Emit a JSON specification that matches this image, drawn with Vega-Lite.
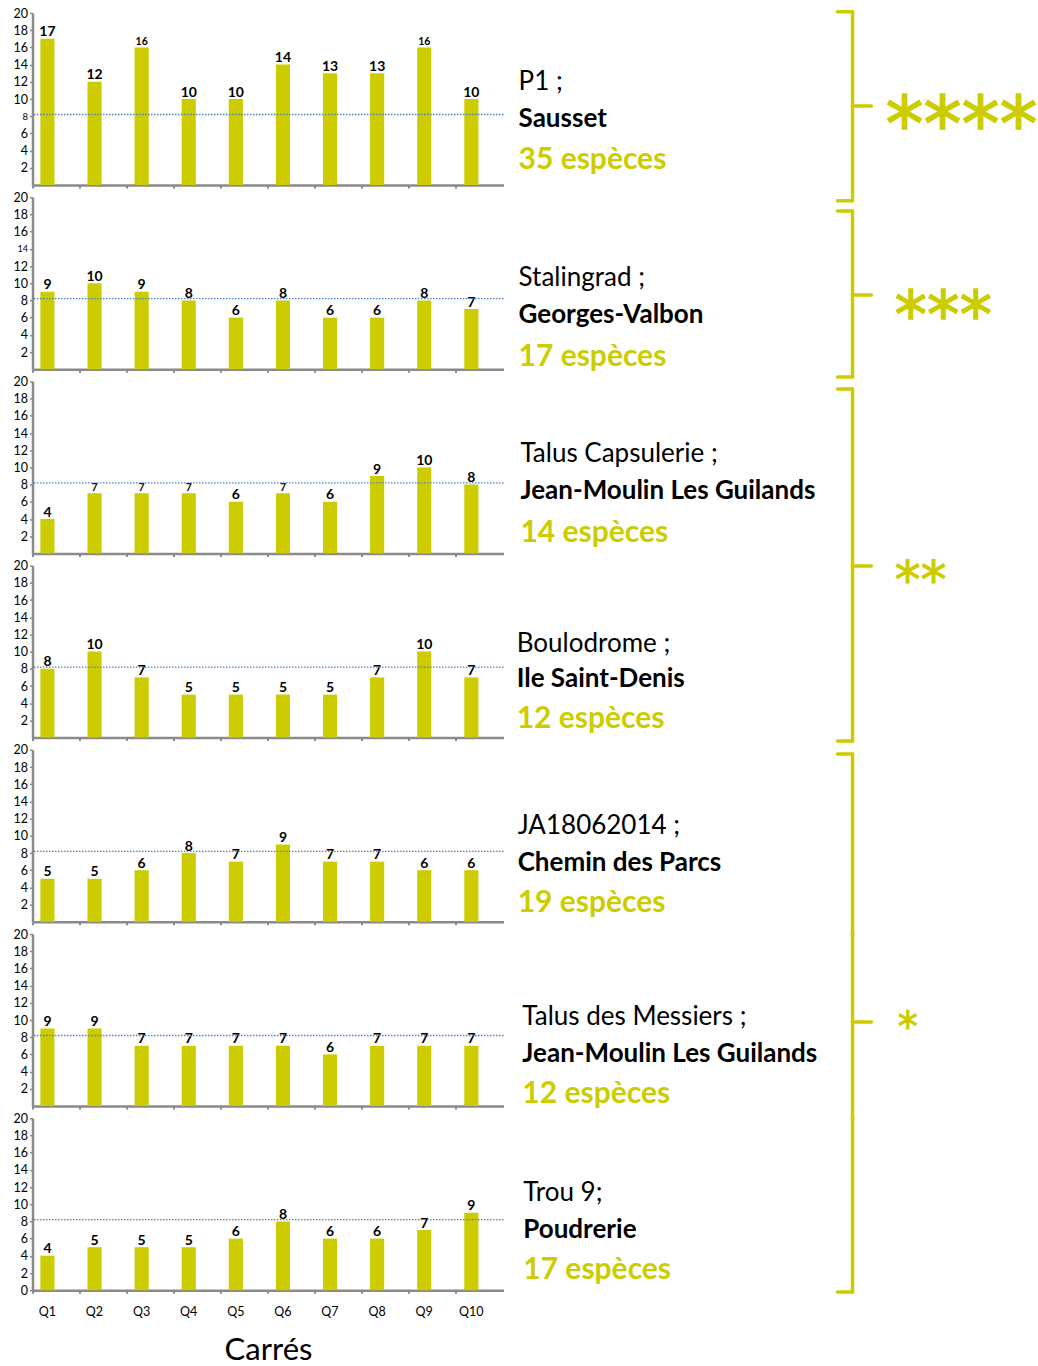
{
  "$schema": "https://vega.github.io/schema/vega-lite/v6.json",
  "padding": {"left": 12.5, "top": 7, "right": 0, "bottom": 0},
  "config": {"view": {"stroke": null}, "font": "Lato", "axis": {"labelOverlap": false}},
  "datasets": {
    "counts": [
      {"panel":1,"q":"Q1","n":17},{"panel":1,"q":"Q2","n":12},{"panel":1,"q":"Q3","n":16},{"panel":1,"q":"Q4","n":10},{"panel":1,"q":"Q5","n":10},{"panel":1,"q":"Q6","n":14},{"panel":1,"q":"Q7","n":13},{"panel":1,"q":"Q8","n":13},{"panel":1,"q":"Q9","n":16},{"panel":1,"q":"Q10","n":10},
      {"panel":2,"q":"Q1","n":9},{"panel":2,"q":"Q2","n":10},{"panel":2,"q":"Q3","n":9},{"panel":2,"q":"Q4","n":8},{"panel":2,"q":"Q5","n":6},{"panel":2,"q":"Q6","n":8},{"panel":2,"q":"Q7","n":6},{"panel":2,"q":"Q8","n":6},{"panel":2,"q":"Q9","n":8},{"panel":2,"q":"Q10","n":7},
      {"panel":3,"q":"Q1","n":4},{"panel":3,"q":"Q2","n":7},{"panel":3,"q":"Q3","n":7},{"panel":3,"q":"Q4","n":7},{"panel":3,"q":"Q5","n":6},{"panel":3,"q":"Q6","n":7},{"panel":3,"q":"Q7","n":6},{"panel":3,"q":"Q8","n":9},{"panel":3,"q":"Q9","n":10},{"panel":3,"q":"Q10","n":8},
      {"panel":4,"q":"Q1","n":8},{"panel":4,"q":"Q2","n":10},{"panel":4,"q":"Q3","n":7},{"panel":4,"q":"Q4","n":5},{"panel":4,"q":"Q5","n":5},{"panel":4,"q":"Q6","n":5},{"panel":4,"q":"Q7","n":5},{"panel":4,"q":"Q8","n":7},{"panel":4,"q":"Q9","n":10},{"panel":4,"q":"Q10","n":7},
      {"panel":5,"q":"Q1","n":5},{"panel":5,"q":"Q2","n":5},{"panel":5,"q":"Q3","n":6},{"panel":5,"q":"Q4","n":8},{"panel":5,"q":"Q5","n":7},{"panel":5,"q":"Q6","n":9},{"panel":5,"q":"Q7","n":7},{"panel":5,"q":"Q8","n":7},{"panel":5,"q":"Q9","n":6},{"panel":5,"q":"Q10","n":6},
      {"panel":6,"q":"Q1","n":9},{"panel":6,"q":"Q2","n":9},{"panel":6,"q":"Q3","n":7},{"panel":6,"q":"Q4","n":7},{"panel":6,"q":"Q5","n":7},{"panel":6,"q":"Q6","n":7},{"panel":6,"q":"Q7","n":6},{"panel":6,"q":"Q8","n":7},{"panel":6,"q":"Q9","n":7},{"panel":6,"q":"Q10","n":7},
      {"panel":7,"q":"Q1","n":4},{"panel":7,"q":"Q2","n":5},{"panel":7,"q":"Q3","n":5},{"panel":7,"q":"Q4","n":5},{"panel":7,"q":"Q5","n":6},{"panel":7,"q":"Q6","n":8},{"panel":7,"q":"Q7","n":6},{"panel":7,"q":"Q8","n":6},{"panel":7,"q":"Q9","n":7},{"panel":7,"q":"Q10","n":9}
    ],
    "sites": [
      {"panel":1,"code":"P1 ;","name":"Sausset","species":"35 espèces","stars":"****"},
      {"panel":2,"code":"Stalingrad ;","name":"Georges-Valbon","species":"17 espèces","stars":"***"},
      {"panel":3,"code":"Talus Capsulerie ;","name":"Jean-Moulin Les Guilands","species":"14 espèces","stars":""},
      {"panel":4,"code":"Boulodrome ;","name":"Ile Saint-Denis","species":"12 espèces","stars":"**"},
      {"panel":5,"code":"JA18062014 ;","name":"Chemin des Parcs","species":"19 espèces","stars":""},
      {"panel":6,"code":"Talus des Messiers ;","name":"Jean-Moulin Les Guilands","species":"12 espèces","stars":"*"},
      {"panel":7,"code":"Trou 9;","name":"Poudrerie","species":"17 espèces","stars":""}
    ]
  },
  "vconcat": [
    {
      "width": 471, "height": 172,
      "data": {"name": "sites"},
      "transform": [{"filter": "datum.panel == 1"}],
      "resolve": {"scale": {"x": "independent", "y": "independent"}},
      "layer": [
        {"data": {"name": "counts"}, "transform": [{"filter": "datum.panel == 1"}],
         "mark": {"type": "bar", "color": "#CCCC00", "width": {"band": 0.3}, "xOffset": -8.6},
         "encoding": {
           "x": {"field": "q", "type": "ordinal", "sort": null, "scale": {"paddingInner": 0, "paddingOuter": 0},
                 "axis": {"title": null, "labels": false, "bandPosition": 0, "domainColor": "#8a8a8a", "domainWidth": 2.5, "tickColor": "#8a8a8a", "tickSize": 3, "tickWidth": 2}},
           "y": {"field": "n", "type": "quantitative", "scale": {"domain": [0, 20], "nice": false},
                 "axis": {"values": [2,4,6,8,10,12,14,16,18,20], "title": null, "grid": false, "labelOverlap": false, "labelFontSize": {"condition": {"test": "datum.value == 8", "value": 9.5}, "value": 12.5}, "labelColor": "#000", "domainColor": "#8a8a8a", "domainWidth": 2.5, "tickColor": "#8a8a8a", "tickSize": 3, "tickWidth": 1.5, "labelPadding": 2}}}},
        {"data": {"name": "counts"}, "transform": [{"filter": "datum.panel == 1"}],
         "mark": {"type": "text", "fontWeight": "bold", "baseline": "alphabetic", "dy": -2.5, "xOffset": -8.6, "color": "#000"},
         "encoding": {"x": {"field": "q", "type": "ordinal", "sort": null, "scale": {"paddingInner": 0, "paddingOuter": 0}, "axis": null},
                      "y": {"field": "n", "type": "quantitative", "scale": {"domain": [0, 20], "nice": false}, "axis": null}, "text": {"field": "n"},
                      "size": {"condition": {"test": "datum.n == 16", "value": 10.5}, "value": 14}}},
        {"mark": {"type": "rule", "color": "#4F81BD", "strokeDash": [1.5, 1.5], "strokeWidth": 1.3},
         "encoding": {"y": {"datum": 8.2, "type": "quantitative", "scale": {"domain": [0, 20], "nice": false}, "axis": null}}},
        {"mark": {"type": "text", "fontSize": 26, "align": "left", "baseline": "alphabetic", "color": "#000"},
         "encoding": {"x": {"datum": 103.2, "type": "quantitative", "scale": {"domain": [0, 100]}, "axis": null}, "y": {"datum": 11.08, "type": "quantitative", "scale": {"domain": [0, 20], "nice": false}, "axis": null}, "text": {"field": "code"}}},
        {"mark": {"type": "text", "fontSize": 26, "fontWeight": "bold", "align": "left", "baseline": "alphabetic", "color": "#000"},
         "encoding": {"x": {"datum": 103.2, "type": "quantitative", "scale": {"domain": [0, 100]}, "axis": null}, "y": {"datum": 6.78, "type": "quantitative", "scale": {"domain": [0, 20], "nice": false}, "axis": null}, "text": {"field": "name"}}},
        {"mark": {"type": "text", "fontSize": 30, "fontWeight": "bold", "align": "left", "baseline": "alphabetic", "color": "#CCCC00"},
         "encoding": {"x": {"datum": 103.2, "type": "quantitative", "scale": {"domain": [0, 100]}, "axis": null}, "y": {"datum": 1.86, "type": "quantitative", "scale": {"domain": [0, 20], "nice": false}, "axis": null}, "text": {"field": "species"}}},
        {"mark": {"type": "rule", "color": "#CCCC00", "strokeWidth": 3.5, "strokeCap": "round"},
         "encoding": {"x": {"datum": 174.1, "type": "quantitative", "scale": {"domain": [0, 100]}, "axis": null}, "y": {"datum": 20.15, "type": "quantitative", "scale": {"domain": [0, 20], "nice": false}, "axis": null}, "y2": {"datum": -1.83}}},
        {"mark": {"type": "rule", "color": "#CCCC00", "strokeWidth": 3.5, "strokeCap": "round"},
         "encoding": {"x": {"datum": 170.9, "type": "quantitative", "scale": {"domain": [0, 100]}, "axis": null}, "x2": {"datum": 174.1}, "y": {"datum": 20.15, "type": "quantitative", "scale": {"domain": [0, 20], "nice": false}, "axis": null}}},
        {"mark": {"type": "rule", "color": "#CCCC00", "strokeWidth": 3.5, "strokeCap": "round"},
         "encoding": {"x": {"datum": 170.9, "type": "quantitative", "scale": {"domain": [0, 100]}, "axis": null}, "x2": {"datum": 174.1}, "y": {"datum": -1.83, "type": "quantitative", "scale": {"domain": [0, 20], "nice": false}, "axis": null}}},
        {"mark": {"type": "rule", "color": "#CCCC00", "strokeWidth": 3.5, "strokeCap": "round"},
         "encoding": {"x": {"datum": 174.1, "type": "quantitative", "scale": {"domain": [0, 100]}, "axis": null}, "x2": {"datum": 178.1}, "y": {"datum": 9.19, "type": "quantitative", "scale": {"domain": [0, 20], "nice": false}, "axis": null}}},
        {"mark": {"type": "text", "font": "DejaVu Sans", "fontSize": 76, "align": "left", "baseline": "alphabetic", "color": "#CCCC00", "stroke": "#CCCC00", "strokeWidth": 1.5},
         "encoding": {"x": {"datum": 181.1, "type": "quantitative", "scale": {"domain": [0, 100]}, "axis": null}, "y": {"datum": 3.92, "type": "quantitative", "scale": {"domain": [0, 20], "nice": false}, "axis": null}, "text": {"field": "stars"}}}
      ]
    },
    {
      "width": 471, "height": 172,
      "data": {"name": "sites"},
      "transform": [{"filter": "datum.panel == 2"}],
      "resolve": {"scale": {"x": "independent", "y": "independent"}},
      "layer": [
        {"data": {"name": "counts"}, "transform": [{"filter": "datum.panel == 2"}],
         "mark": {"type": "bar", "color": "#CCCC00", "width": {"band": 0.3}, "xOffset": -8.6},
         "encoding": {
           "x": {"field": "q", "type": "ordinal", "sort": null, "scale": {"paddingInner": 0, "paddingOuter": 0},
                 "axis": {"title": null, "labels": false, "bandPosition": 0, "domainColor": "#8a8a8a", "domainWidth": 2.5, "tickColor": "#8a8a8a", "tickSize": 3, "tickWidth": 2}},
           "y": {"field": "n", "type": "quantitative", "scale": {"domain": [0, 20], "nice": false},
                 "axis": {"values": [2,4,6,8,10,12,14,16,18,20], "title": null, "grid": false, "labelOverlap": false, "labelFontSize": {"condition": {"test": "datum.value == 14", "value": 9}, "value": 12.5}, "labelColor": "#000", "domainColor": "#8a8a8a", "domainWidth": 2.5, "tickColor": "#8a8a8a", "tickSize": 3, "tickWidth": 1.5, "labelPadding": 2}}}},
        {"data": {"name": "counts"}, "transform": [{"filter": "datum.panel == 2"}],
         "mark": {"type": "text", "fontWeight": "bold", "fontSize": 14, "baseline": "alphabetic", "dy": -2.5, "xOffset": -8.6, "color": "#000"},
         "encoding": {"x": {"field": "q", "type": "ordinal", "sort": null, "scale": {"paddingInner": 0, "paddingOuter": 0}, "axis": null},
                      "y": {"field": "n", "type": "quantitative", "scale": {"domain": [0, 20], "nice": false}, "axis": null}, "text": {"field": "n"}}},
        {"mark": {"type": "rule", "color": "#4F81BD", "strokeDash": [1.5, 1.5], "strokeWidth": 1.3},
         "encoding": {"y": {"datum": 8.2, "type": "quantitative", "scale": {"domain": [0, 20], "nice": false}, "axis": null}}},
        {"mark": {"type": "text", "fontSize": 26, "align": "left", "baseline": "alphabetic", "color": "#000"},
         "encoding": {"x": {"datum": 103.2, "type": "quantitative", "scale": {"domain": [0, 100]}, "axis": null}, "y": {"datum": 9.71, "type": "quantitative", "scale": {"domain": [0, 20], "nice": false}, "axis": null}, "text": {"field": "code"}}},
        {"mark": {"type": "text", "fontSize": 26, "fontWeight": "bold", "align": "left", "baseline": "alphabetic", "color": "#000"},
         "encoding": {"x": {"datum": 103.2, "type": "quantitative", "scale": {"domain": [0, 100]}, "axis": null}, "y": {"datum": 5.37, "type": "quantitative", "scale": {"domain": [0, 20], "nice": false}, "axis": null}, "text": {"field": "name"}}},
        {"mark": {"type": "text", "fontSize": 30, "fontWeight": "bold", "align": "left", "baseline": "alphabetic", "color": "#CCCC00"},
         "encoding": {"x": {"datum": 103.2, "type": "quantitative", "scale": {"domain": [0, 100]}, "axis": null}, "y": {"datum": 0.41, "type": "quantitative", "scale": {"domain": [0, 20], "nice": false}, "axis": null}, "text": {"field": "species"}}},
        {"mark": {"type": "rule", "color": "#CCCC00", "strokeWidth": 3.5, "strokeCap": "round"},
         "encoding": {"x": {"datum": 174.1, "type": "quantitative", "scale": {"domain": [0, 100]}, "axis": null}, "y": {"datum": 18.4, "type": "quantitative", "scale": {"domain": [0, 20], "nice": false}, "axis": null}, "y2": {"datum": -0.91}}},
        {"mark": {"type": "rule", "color": "#CCCC00", "strokeWidth": 3.5, "strokeCap": "round"},
         "encoding": {"x": {"datum": 170.9, "type": "quantitative", "scale": {"domain": [0, 100]}, "axis": null}, "x2": {"datum": 174.1}, "y": {"datum": 18.4, "type": "quantitative", "scale": {"domain": [0, 20], "nice": false}, "axis": null}}},
        {"mark": {"type": "rule", "color": "#CCCC00", "strokeWidth": 3.5, "strokeCap": "round"},
         "encoding": {"x": {"datum": 170.9, "type": "quantitative", "scale": {"domain": [0, 100]}, "axis": null}, "x2": {"datum": 174.1}, "y": {"datum": -0.91, "type": "quantitative", "scale": {"domain": [0, 20], "nice": false}, "axis": null}}},
        {"mark": {"type": "rule", "color": "#CCCC00", "strokeWidth": 3.5, "strokeCap": "round"},
         "encoding": {"x": {"datum": 174.1, "type": "quantitative", "scale": {"domain": [0, 100]}, "axis": null}, "x2": {"datum": 178.1}, "y": {"datum": 8.63, "type": "quantitative", "scale": {"domain": [0, 20], "nice": false}, "axis": null}}},
        {"mark": {"type": "text", "font": "DejaVu Sans", "fontSize": 65, "align": "left", "baseline": "alphabetic", "color": "#CCCC00", "stroke": "#CCCC00", "strokeWidth": 1.3},
         "encoding": {"x": {"datum": 183.0, "type": "quantitative", "scale": {"domain": [0, 100]}, "axis": null}, "y": {"datum": 3.57, "type": "quantitative", "scale": {"domain": [0, 20], "nice": false}, "axis": null}, "text": {"field": "stars"}}}
      ]
    },
    {
      "width": 471, "height": 172,
      "data": {"name": "sites"},
      "transform": [{"filter": "datum.panel == 3"}],
      "resolve": {"scale": {"x": "independent", "y": "independent"}},
      "layer": [
        {"data": {"name": "counts"}, "transform": [{"filter": "datum.panel == 3"}],
         "mark": {"type": "bar", "color": "#CCCC00", "width": {"band": 0.3}, "xOffset": -8.6},
         "encoding": {
           "x": {"field": "q", "type": "ordinal", "sort": null, "scale": {"paddingInner": 0, "paddingOuter": 0},
                 "axis": {"title": null, "labels": false, "bandPosition": 0, "domainColor": "#8a8a8a", "domainWidth": 2.5, "tickColor": "#8a8a8a", "tickSize": 3, "tickWidth": 2}},
           "y": {"field": "n", "type": "quantitative", "scale": {"domain": [0, 20], "nice": false},
                 "axis": {"values": [2,4,6,8,10,12,14,16,18,20], "title": null, "grid": false, "labelOverlap": false, "labelFontSize": 12.5, "labelColor": "#000", "domainColor": "#8a8a8a", "domainWidth": 2.5, "tickColor": "#8a8a8a", "tickSize": 3, "tickWidth": 1.5, "labelPadding": 2}}}},
        {"data": {"name": "counts"}, "transform": [{"filter": "datum.panel == 3"}],
         "mark": {"type": "text", "fontWeight": "bold", "baseline": "alphabetic", "dy": -2.5, "xOffset": -8.6, "color": "#000"},
         "encoding": {"x": {"field": "q", "type": "ordinal", "sort": null, "scale": {"paddingInner": 0, "paddingOuter": 0}, "axis": null},
                      "y": {"field": "n", "type": "quantitative", "scale": {"domain": [0, 20], "nice": false}, "axis": null}, "text": {"field": "n"},
                      "size": {"condition": {"test": "datum.n == 7", "value": 10.5}, "value": 14}}},
        {"mark": {"type": "rule", "color": "#4F81BD", "strokeDash": [1.5, 1.5], "strokeWidth": 1.3},
         "encoding": {"y": {"datum": 8.2, "type": "quantitative", "scale": {"domain": [0, 20], "nice": false}, "axis": null}}},
        {"mark": {"type": "text", "fontSize": 26, "align": "left", "baseline": "alphabetic", "color": "#000"},
         "encoding": {"x": {"datum": 103.6, "type": "quantitative", "scale": {"domain": [0, 100]}, "axis": null}, "y": {"datum": 10.63, "type": "quantitative", "scale": {"domain": [0, 20], "nice": false}, "axis": null}, "text": {"field": "code"}}},
        {"mark": {"type": "text", "fontSize": 26, "fontWeight": "bold", "align": "left", "baseline": "alphabetic", "color": "#000"},
         "encoding": {"x": {"datum": 103.6, "type": "quantitative", "scale": {"domain": [0, 100]}, "axis": null}, "y": {"datum": 6.33, "type": "quantitative", "scale": {"domain": [0, 20], "nice": false}, "axis": null}, "text": {"field": "name"}}},
        {"mark": {"type": "text", "fontSize": 30, "fontWeight": "bold", "align": "left", "baseline": "alphabetic", "color": "#CCCC00"},
         "encoding": {"x": {"datum": 103.6, "type": "quantitative", "scale": {"domain": [0, 100]}, "axis": null}, "y": {"datum": 1.36, "type": "quantitative", "scale": {"domain": [0, 20], "nice": false}, "axis": null}, "text": {"field": "species"}}},
        {"mark": {"type": "rule", "color": "#CCCC00", "strokeWidth": 3.5, "strokeCap": "round"},
         "encoding": {"x": {"datum": 174.1, "type": "quantitative", "scale": {"domain": [0, 100]}, "axis": null}, "y": {"datum": 19.12, "type": "quantitative", "scale": {"domain": [0, 20], "nice": false}, "axis": null}, "y2": {"datum": -1.6}}},
        {"mark": {"type": "rule", "color": "#CCCC00", "strokeWidth": 3.5, "strokeCap": "round"},
         "encoding": {"x": {"datum": 170.9, "type": "quantitative", "scale": {"domain": [0, 100]}, "axis": null}, "x2": {"datum": 174.1}, "y": {"datum": 19.12, "type": "quantitative", "scale": {"domain": [0, 20], "nice": false}, "axis": null}}},
        {"mark": {"type": "rule", "color": "#CCCC00", "strokeWidth": 3.5, "strokeCap": "round"},
         "encoding": {"x": {"datum": 174.1, "type": "quantitative", "scale": {"domain": [0, 100]}, "axis": null}, "x2": {"datum": 178.1}, "y": {"datum": -1.47, "type": "quantitative", "scale": {"domain": [0, 20], "nice": false}, "axis": null}}}
      ]
    },
    {
      "width": 471, "height": 172,
      "data": {"name": "sites"},
      "transform": [{"filter": "datum.panel == 4"}],
      "resolve": {"scale": {"x": "independent", "y": "independent"}},
      "layer": [
        {"data": {"name": "counts"}, "transform": [{"filter": "datum.panel == 4"}],
         "mark": {"type": "bar", "color": "#CCCC00", "width": {"band": 0.3}, "xOffset": -8.6},
         "encoding": {
           "x": {"field": "q", "type": "ordinal", "sort": null, "scale": {"paddingInner": 0, "paddingOuter": 0},
                 "axis": {"title": null, "labels": false, "bandPosition": 0, "domainColor": "#8a8a8a", "domainWidth": 2.5, "tickColor": "#8a8a8a", "tickSize": 3, "tickWidth": 2}},
           "y": {"field": "n", "type": "quantitative", "scale": {"domain": [0, 20], "nice": false},
                 "axis": {"values": [2,4,6,8,10,12,14,16,18,20], "title": null, "grid": false, "labelOverlap": false, "labelFontSize": 12.5, "labelColor": "#000", "domainColor": "#8a8a8a", "domainWidth": 2.5, "tickColor": "#8a8a8a", "tickSize": 3, "tickWidth": 1.5, "labelPadding": 2}}}},
        {"data": {"name": "counts"}, "transform": [{"filter": "datum.panel == 4"}],
         "mark": {"type": "text", "fontWeight": "bold", "fontSize": 14, "baseline": "alphabetic", "dy": -2.5, "xOffset": -8.6, "color": "#000"},
         "encoding": {"x": {"field": "q", "type": "ordinal", "sort": null, "scale": {"paddingInner": 0, "paddingOuter": 0}, "axis": null},
                      "y": {"field": "n", "type": "quantitative", "scale": {"domain": [0, 20], "nice": false}, "axis": null}, "text": {"field": "n"}}},
        {"mark": {"type": "rule", "color": "#4F81BD", "strokeDash": [1.5, 1.5], "strokeWidth": 1.3},
         "encoding": {"y": {"datum": 8.2, "type": "quantitative", "scale": {"domain": [0, 20], "nice": false}, "axis": null}}},
        {"mark": {"type": "text", "fontSize": 26, "align": "left", "baseline": "alphabetic", "color": "#000"},
         "encoding": {"x": {"datum": 102.8, "type": "quantitative", "scale": {"domain": [0, 100]}, "axis": null}, "y": {"datum": 9.99, "type": "quantitative", "scale": {"domain": [0, 20], "nice": false}, "axis": null}, "text": {"field": "code"}}},
        {"mark": {"type": "text", "fontSize": 26, "fontWeight": "bold", "align": "left", "baseline": "alphabetic", "color": "#000"},
         "encoding": {"x": {"datum": 102.8, "type": "quantitative", "scale": {"domain": [0, 100]}, "axis": null}, "y": {"datum": 5.88, "type": "quantitative", "scale": {"domain": [0, 20], "nice": false}, "axis": null}, "text": {"field": "name"}}},
        {"mark": {"type": "text", "fontSize": 30, "fontWeight": "bold", "align": "left", "baseline": "alphabetic", "color": "#CCCC00"},
         "encoding": {"x": {"datum": 102.8, "type": "quantitative", "scale": {"domain": [0, 100]}, "axis": null}, "y": {"datum": 1.12, "type": "quantitative", "scale": {"domain": [0, 20], "nice": false}, "axis": null}, "text": {"field": "species"}}},
        {"mark": {"type": "rule", "color": "#CCCC00", "strokeWidth": 3.5, "strokeCap": "round"},
         "encoding": {"x": {"datum": 174.1, "type": "quantitative", "scale": {"domain": [0, 100]}, "axis": null}, "y": {"datum": 20.2, "type": "quantitative", "scale": {"domain": [0, 20], "nice": false}, "axis": null}, "y2": {"datum": -0.4}}},
        {"mark": {"type": "rule", "color": "#CCCC00", "strokeWidth": 3.5, "strokeCap": "round"},
         "encoding": {"x": {"datum": 170.9, "type": "quantitative", "scale": {"domain": [0, 100]}, "axis": null}, "x2": {"datum": 174.1}, "y": {"datum": -0.4, "type": "quantitative", "scale": {"domain": [0, 20], "nice": false}, "axis": null}}},
        {"mark": {"type": "text", "font": "DejaVu Sans", "fontSize": 52, "align": "left", "baseline": "alphabetic", "color": "#CCCC00", "stroke": "#CCCC00", "strokeWidth": 1},
         "encoding": {"x": {"datum": 183.0, "type": "quantitative", "scale": {"domain": [0, 100]}, "axis": null}, "y": {"datum": 16.29, "type": "quantitative", "scale": {"domain": [0, 20], "nice": false}, "axis": null}, "text": {"field": "stars"}}}
      ]
    },
    {
      "width": 471, "height": 172,
      "data": {"name": "sites"},
      "transform": [{"filter": "datum.panel == 5"}],
      "resolve": {"scale": {"x": "independent", "y": "independent"}},
      "layer": [
        {"data": {"name": "counts"}, "transform": [{"filter": "datum.panel == 5"}],
         "mark": {"type": "bar", "color": "#CCCC00", "width": {"band": 0.3}, "xOffset": -8.6},
         "encoding": {
           "x": {"field": "q", "type": "ordinal", "sort": null, "scale": {"paddingInner": 0, "paddingOuter": 0},
                 "axis": {"title": null, "labels": false, "bandPosition": 0, "domainColor": "#8a8a8a", "domainWidth": 2.5, "tickColor": "#8a8a8a", "tickSize": 3, "tickWidth": 2}},
           "y": {"field": "n", "type": "quantitative", "scale": {"domain": [0, 20], "nice": false},
                 "axis": {"values": [2,4,6,8,10,12,14,16,18,20], "title": null, "grid": false, "labelOverlap": false, "labelFontSize": 12.5, "labelColor": "#000", "domainColor": "#8a8a8a", "domainWidth": 2.5, "tickColor": "#8a8a8a", "tickSize": 3, "tickWidth": 1.5, "labelPadding": 2}}}},
        {"data": {"name": "counts"}, "transform": [{"filter": "datum.panel == 5"}],
         "mark": {"type": "text", "fontWeight": "bold", "fontSize": 14, "baseline": "alphabetic", "dy": -2.5, "xOffset": -8.6, "color": "#000"},
         "encoding": {"x": {"field": "q", "type": "ordinal", "sort": null, "scale": {"paddingInner": 0, "paddingOuter": 0}, "axis": null},
                      "y": {"field": "n", "type": "quantitative", "scale": {"domain": [0, 20], "nice": false}, "axis": null}, "text": {"field": "n"}}},
        {"mark": {"type": "rule", "color": "#4F81BD", "strokeDash": [1.5, 1.5], "strokeWidth": 1.3},
         "encoding": {"y": {"datum": 8.2, "type": "quantitative", "scale": {"domain": [0, 20], "nice": false}, "axis": null}}},
        {"mark": {"type": "text", "fontSize": 26, "align": "left", "baseline": "alphabetic", "color": "#000"},
         "encoding": {"x": {"datum": 103.0, "type": "quantitative", "scale": {"domain": [0, 100]}, "axis": null}, "y": {"datum": 10.21, "type": "quantitative", "scale": {"domain": [0, 20], "nice": false}, "axis": null}, "text": {"field": "code"}}},
        {"mark": {"type": "text", "fontSize": 26, "fontWeight": "bold", "align": "left", "baseline": "alphabetic", "color": "#000"},
         "encoding": {"x": {"datum": 103.0, "type": "quantitative", "scale": {"domain": [0, 100]}, "axis": null}, "y": {"datum": 5.91, "type": "quantitative", "scale": {"domain": [0, 20], "nice": false}, "axis": null}, "text": {"field": "name"}}},
        {"mark": {"type": "text", "fontSize": 30, "fontWeight": "bold", "align": "left", "baseline": "alphabetic", "color": "#CCCC00"},
         "encoding": {"x": {"datum": 103.0, "type": "quantitative", "scale": {"domain": [0, 100]}, "axis": null}, "y": {"datum": 1.14, "type": "quantitative", "scale": {"domain": [0, 20], "nice": false}, "axis": null}, "text": {"field": "species"}}},
        {"mark": {"type": "rule", "color": "#CCCC00", "strokeWidth": 3.5, "strokeCap": "round"},
         "encoding": {"x": {"datum": 174.1, "type": "quantitative", "scale": {"domain": [0, 100]}, "axis": null}, "y": {"datum": 19.51, "type": "quantitative", "scale": {"domain": [0, 20], "nice": false}, "axis": null}, "y2": {"datum": -1.6}}},
        {"mark": {"type": "rule", "color": "#CCCC00", "strokeWidth": 3.5, "strokeCap": "round"},
         "encoding": {"x": {"datum": 170.9, "type": "quantitative", "scale": {"domain": [0, 100]}, "axis": null}, "x2": {"datum": 174.1}, "y": {"datum": 19.51, "type": "quantitative", "scale": {"domain": [0, 20], "nice": false}, "axis": null}}}
      ]
    },
    {
      "width": 471, "height": 172,
      "data": {"name": "sites"},
      "transform": [{"filter": "datum.panel == 6"}],
      "resolve": {"scale": {"x": "independent", "y": "independent"}},
      "layer": [
        {"data": {"name": "counts"}, "transform": [{"filter": "datum.panel == 6"}],
         "mark": {"type": "bar", "color": "#CCCC00", "width": {"band": 0.3}, "xOffset": -8.6},
         "encoding": {
           "x": {"field": "q", "type": "ordinal", "sort": null, "scale": {"paddingInner": 0, "paddingOuter": 0},
                 "axis": {"title": null, "labels": false, "bandPosition": 0, "domainColor": "#8a8a8a", "domainWidth": 2.5, "tickColor": "#8a8a8a", "tickSize": 3, "tickWidth": 2}},
           "y": {"field": "n", "type": "quantitative", "scale": {"domain": [0, 20], "nice": false},
                 "axis": {"values": [2,4,6,8,10,12,14,16,18,20], "title": null, "grid": false, "labelOverlap": false, "labelFontSize": 12.5, "labelColor": "#000", "domainColor": "#8a8a8a", "domainWidth": 2.5, "tickColor": "#8a8a8a", "tickSize": 3, "tickWidth": 1.5, "labelPadding": 2}}}},
        {"data": {"name": "counts"}, "transform": [{"filter": "datum.panel == 6"}],
         "mark": {"type": "text", "fontWeight": "bold", "fontSize": 14, "baseline": "alphabetic", "dy": -2.5, "xOffset": -8.6, "color": "#000"},
         "encoding": {"x": {"field": "q", "type": "ordinal", "sort": null, "scale": {"paddingInner": 0, "paddingOuter": 0}, "axis": null},
                      "y": {"field": "n", "type": "quantitative", "scale": {"domain": [0, 20], "nice": false}, "axis": null}, "text": {"field": "n"}}},
        {"mark": {"type": "rule", "color": "#4F81BD", "strokeDash": [1.5, 1.5], "strokeWidth": 1.3},
         "encoding": {"y": {"datum": 8.2, "type": "quantitative", "scale": {"domain": [0, 20], "nice": false}, "axis": null}}},
        {"mark": {"type": "text", "fontSize": 26, "align": "left", "baseline": "alphabetic", "color": "#000"},
         "encoding": {"x": {"datum": 104.0, "type": "quantitative", "scale": {"domain": [0, 100]}, "axis": null}, "y": {"datum": 9.42, "type": "quantitative", "scale": {"domain": [0, 20], "nice": false}, "axis": null}, "text": {"field": "code"}}},
        {"mark": {"type": "text", "fontSize": 26, "fontWeight": "bold", "align": "left", "baseline": "alphabetic", "color": "#000"},
         "encoding": {"x": {"datum": 104.0, "type": "quantitative", "scale": {"domain": [0, 100]}, "axis": null}, "y": {"datum": 5.12, "type": "quantitative", "scale": {"domain": [0, 20], "nice": false}, "axis": null}, "text": {"field": "name"}}},
        {"mark": {"type": "text", "fontSize": 30, "fontWeight": "bold", "align": "left", "baseline": "alphabetic", "color": "#CCCC00"},
         "encoding": {"x": {"datum": 104.0, "type": "quantitative", "scale": {"domain": [0, 100]}, "axis": null}, "y": {"datum": 0.35, "type": "quantitative", "scale": {"domain": [0, 20], "nice": false}, "axis": null}, "text": {"field": "species"}}},
        {"mark": {"type": "rule", "color": "#CCCC00", "strokeWidth": 3.5, "strokeCap": "round"},
         "encoding": {"x": {"datum": 174.1, "type": "quantitative", "scale": {"domain": [0, 100]}, "axis": null}, "y": {"datum": 20.2, "type": "quantitative", "scale": {"domain": [0, 20], "nice": false}, "axis": null}, "y2": {"datum": -1.6}}},
        {"mark": {"type": "rule", "color": "#CCCC00", "strokeWidth": 3.5, "strokeCap": "round"},
         "encoding": {"x": {"datum": 174.1, "type": "quantitative", "scale": {"domain": [0, 100]}, "axis": null}, "x2": {"datum": 178.1}, "y": {"datum": 9.77, "type": "quantitative", "scale": {"domain": [0, 20], "nice": false}, "axis": null}}},
        {"mark": {"type": "text", "font": "DejaVu Sans", "fontSize": 40, "align": "left", "baseline": "alphabetic", "color": "#CCCC00", "stroke": "#CCCC00", "strokeWidth": 1},
         "encoding": {"x": {"datum": 183.7, "type": "quantitative", "scale": {"domain": [0, 100]}, "axis": null}, "y": {"datum": 7.59, "type": "quantitative", "scale": {"domain": [0, 20], "nice": false}, "axis": null}, "text": {"field": "stars"}}}
      ]
    },
    {
      "width": 471, "height": 172,
      "data": {"name": "sites"},
      "transform": [{"filter": "datum.panel == 7"}],
      "resolve": {"scale": {"x": "independent", "y": "independent"}},
      "layer": [
        {"data": {"name": "counts"}, "transform": [{"filter": "datum.panel == 7"}],
         "mark": {"type": "bar", "color": "#CCCC00", "width": {"band": 0.3}, "xOffset": -8.6},
         "encoding": {
           "x": {"field": "q", "type": "ordinal", "sort": null, "scale": {"paddingInner": 0, "paddingOuter": 0},
                 "axis": {"title": "Carrés", "labels": true, "labelAngle": 0, "labelOffset": -8.7, "labelFontSize": 12.5, "labelColor": "#000", "labelPadding": 12, "bandPosition": 0, "domainColor": "#8a8a8a", "domainWidth": 2.5, "tickColor": "#8a8a8a", "tickSize": 3, "tickWidth": 2, "titleFontSize": 31, "titleFontWeight": "normal", "titleColor": "#000", "titlePadding": 18}},
           "y": {"field": "n", "type": "quantitative", "scale": {"domain": [0, 20], "nice": false},
                 "axis": {"values": [0,2,4,6,8,10,12,14,16,18,20], "title": null, "grid": false, "labelOverlap": false, "labelFontSize": 12.5, "labelColor": "#000", "domainColor": "#8a8a8a", "domainWidth": 2.5, "tickColor": "#8a8a8a", "tickSize": 3, "tickWidth": 1.5, "labelPadding": 2}}}},
        {"data": {"name": "counts"}, "transform": [{"filter": "datum.panel == 7"}],
         "mark": {"type": "text", "fontWeight": "bold", "fontSize": 14, "baseline": "alphabetic", "dy": -2.5, "xOffset": -8.6, "color": "#000"},
         "encoding": {"x": {"field": "q", "type": "ordinal", "sort": null, "scale": {"paddingInner": 0, "paddingOuter": 0}, "axis": null},
                      "y": {"field": "n", "type": "quantitative", "scale": {"domain": [0, 20], "nice": false}, "axis": null}, "text": {"field": "n"}}},
        {"mark": {"type": "rule", "color": "#4F81BD", "strokeDash": [1.5, 1.5], "strokeWidth": 1.3},
         "encoding": {"y": {"datum": 8.2, "type": "quantitative", "scale": {"domain": [0, 20], "nice": false}, "axis": null}}},
        {"mark": {"type": "text", "fontSize": 26, "align": "left", "baseline": "alphabetic", "color": "#000"},
         "encoding": {"x": {"datum": 104.2, "type": "quantitative", "scale": {"domain": [0, 100]}, "axis": null}, "y": {"datum": 10.37, "type": "quantitative", "scale": {"domain": [0, 20], "nice": false}, "axis": null}, "text": {"field": "code"}}},
        {"mark": {"type": "text", "fontSize": 26, "fontWeight": "bold", "align": "left", "baseline": "alphabetic", "color": "#000"},
         "encoding": {"x": {"datum": 104.2, "type": "quantitative", "scale": {"domain": [0, 100]}, "axis": null}, "y": {"datum": 6.07, "type": "quantitative", "scale": {"domain": [0, 20], "nice": false}, "axis": null}, "text": {"field": "name"}}},
        {"mark": {"type": "text", "fontSize": 30, "fontWeight": "bold", "align": "left", "baseline": "alphabetic", "color": "#CCCC00"},
         "encoding": {"x": {"datum": 104.2, "type": "quantitative", "scale": {"domain": [0, 100]}, "axis": null}, "y": {"datum": 1.3, "type": "quantitative", "scale": {"domain": [0, 20], "nice": false}, "axis": null}, "text": {"field": "species"}}},
        {"mark": {"type": "rule", "color": "#CCCC00", "strokeWidth": 3.5, "strokeCap": "round"},
         "encoding": {"x": {"datum": 174.1, "type": "quantitative", "scale": {"domain": [0, 100]}, "axis": null}, "y": {"datum": 20.2, "type": "quantitative", "scale": {"domain": [0, 20], "nice": false}, "axis": null}, "y2": {"datum": -0.21}}},
        {"mark": {"type": "rule", "color": "#CCCC00", "strokeWidth": 3.5, "strokeCap": "round"},
         "encoding": {"x": {"datum": 170.9, "type": "quantitative", "scale": {"domain": [0, 100]}, "axis": null}, "x2": {"datum": 174.1}, "y": {"datum": -0.21, "type": "quantitative", "scale": {"domain": [0, 20], "nice": false}, "axis": null}}}
      ]
    }
  ],
  "spacing": 12.2,
  "bounds": "flush"
}
